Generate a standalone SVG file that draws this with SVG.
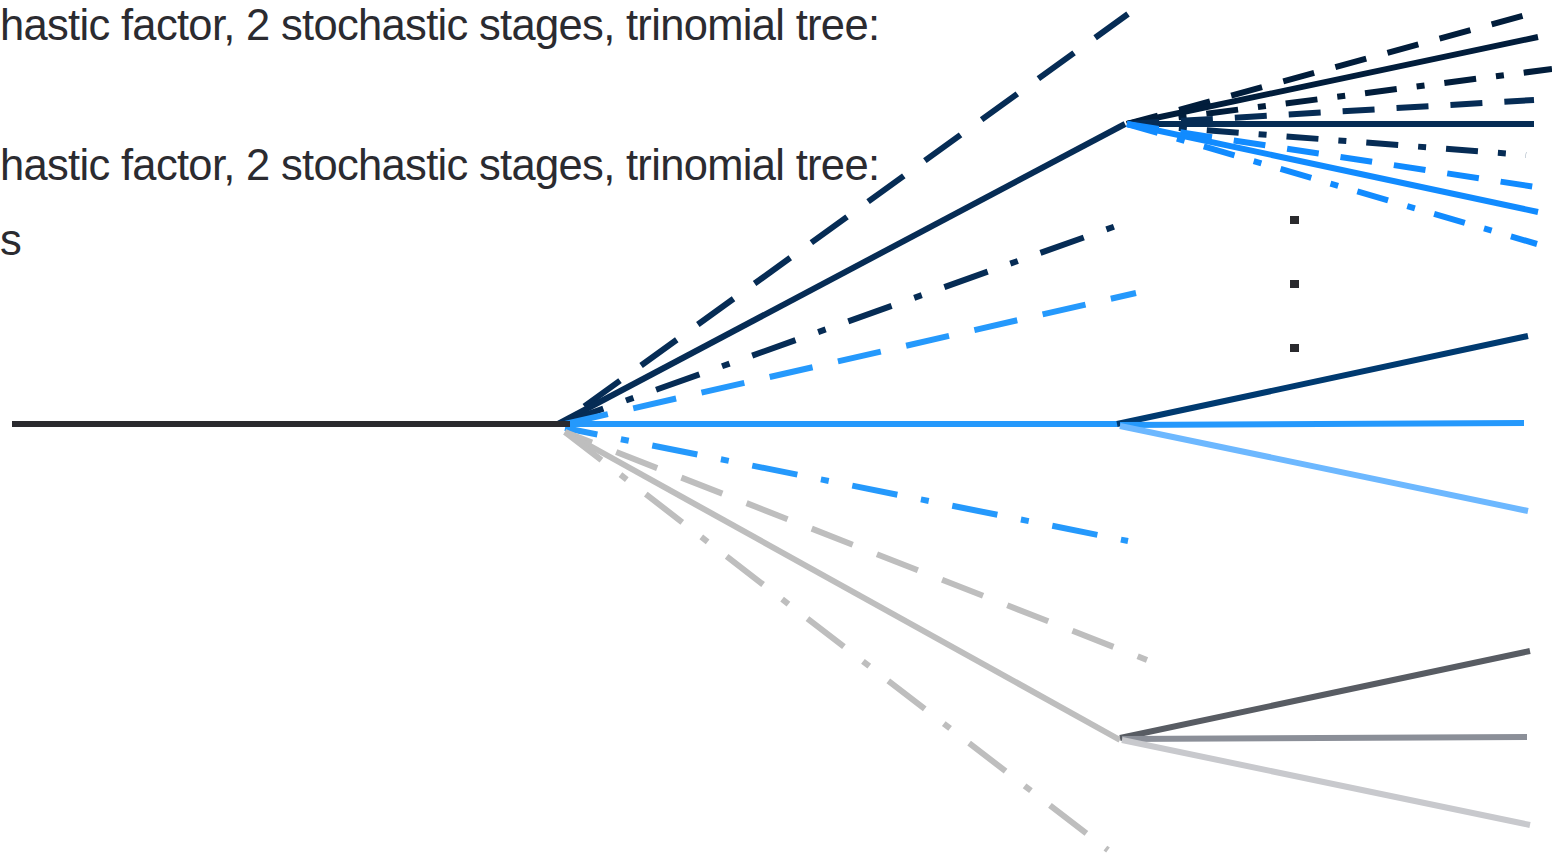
<svg xmlns="http://www.w3.org/2000/svg" width="1552" height="855" viewBox="0 0 1552 855">
<style>
.t{font-family:"Liberation Sans",Arial,sans-serif;font-size:43.5px;fill:#2b2b30}
line{stroke-width:6;fill:none}
.nv{stroke:#062c55}
.nd{stroke:#011d3b}
.bl{stroke:#2599fc}
.b2{stroke:#118bff}
.gr{stroke:#bebebe}
.d1{stroke-dasharray:44 26}
.dd1{stroke-dasharray:46 24 8 24}
.d2{stroke-dasharray:32 22}
.dd2{stroke-dasharray:32 20 8 20}
</style>
<g id="labels">
<text class="t" x="0" y="40" textLength="880" lengthAdjust="spacing">hastic factor, 2 stochastic stages, trinomial tree:</text>
<text class="t" x="0" y="180" textLength="880" lengthAdjust="spacing">hastic factor, 2 stochastic stages, trinomial tree:</text>
<text class="t" x="0" y="255">s</text>
</g>
<g id="connectors">
<g id="stage1">
<line class="nv d1" stroke-dashoffset="40" x1="560" y1="424" x2="1128" y2="14"/>
<line class="nv" x1="558" y1="424" x2="1125" y2="124"/>
<line class="nv dd1" x1="560" y1="424" x2="1116" y2="226"/>
<line class="bl d1" x1="565" y1="424" x2="1136" y2="293"/>
<line class="bl" x1="565" y1="424" x2="1118" y2="424"/>
<line class="bl dd1" stroke-dashoffset="13" x1="565" y1="428" x2="1128" y2="541"/>
<line class="gr d1" stroke-dashoffset="15" x1="565" y1="432" x2="1147" y2="660"/>
<line class="gr" x1="565" y1="432" x2="1120" y2="740"/>
<line class="gr dd1" x1="565" y1="432" x2="1108" y2="850"/>
</g>
<g id="stage2-top">
<line class="nd d2" x1="1127" y1="124" x2="1537" y2="12"/>
<line class="nd" x1="1127" y1="124" x2="1538" y2="37"/>
<line class="nd dd2" x1="1127" y1="124" x2="1552" y2="69"/>
<line class="nv d2" x1="1127" y1="124" x2="1534" y2="100"/>
<line class="nv" x1="1127" y1="124" x2="1534" y2="124"/>
<line class="nv dd2" x1="1127" y1="124" x2="1526" y2="155"/>
<line class="b2 d2" x1="1127" y1="124" x2="1542" y2="188"/>
<line class="b2" x1="1127" y1="124" x2="1538" y2="212"/>
<line class="b2 dd2" x1="1127" y1="124" x2="1537" y2="244"/>
</g>
<g id="stage2-mid">
<line stroke="#003a70" x1="1117" y1="424" x2="1528" y2="336"/>
<line stroke="#2599fc" x1="1120" y1="425" x2="1524" y2="423"/>
<line stroke="#6db8ff" x1="1120" y1="426" x2="1528" y2="511"/>
</g>
<g id="stage2-bot">
<line stroke="#585c63" x1="1120" y1="738" x2="1530" y2="651"/>
<line stroke="#8b8f98" x1="1122" y1="739" x2="1527" y2="737"/>
<line stroke="#c8c9cd" x1="1122" y1="740" x2="1530" y2="825"/>
</g>
<line stroke="#2a2a2e" stroke-width="7" x1="12" y1="424" x2="570" y2="424"/>
</g>
<g id="ellipsis" fill="#2a2a2e">
<rect x="1290" y="216" width="9" height="8"/>
<rect x="1290" y="280" width="9" height="8"/>
<rect x="1290" y="344" width="9" height="8"/>
</g>
</svg>
